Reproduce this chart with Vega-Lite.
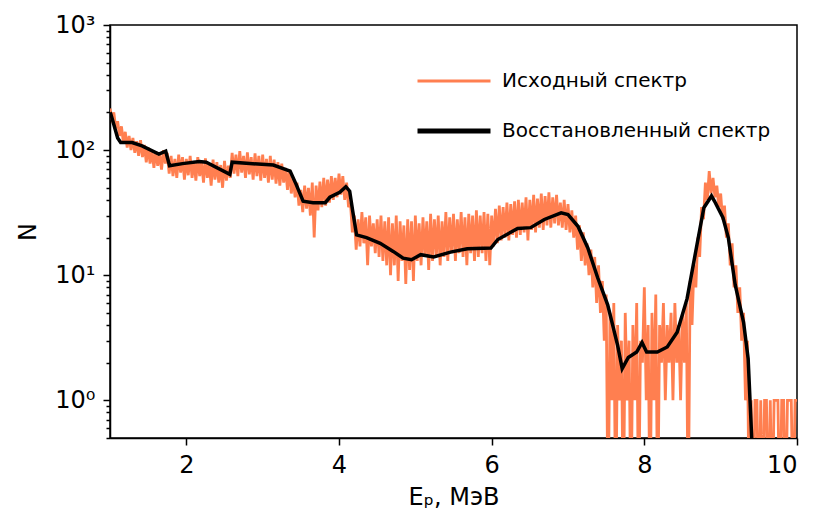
{
  "$schema": "https://vega.github.io/schema/vega-lite/v6.json",
  "width": 687,
  "height": 413,
  "autosize": {"type": "none"},
  "padding": {"left": 110, "top": 25, "right": 20, "bottom": 89},
  "background": "white",
  "config": {
    "view": {"stroke": "black", "strokeWidth": 1.5},
    "axis": {"domainColor": "black", "domainWidth": 1.5, "tickColor": "black", "tickWidth": 1.5, "grid": false, "labelFont": "DejaVu Sans", "labelFontSize": 24, "labelColor": "black", "titleFont": "DejaVu Sans", "titleFontSize": 24, "titleFontWeight": "normal", "titleColor": "black"}
  },
  "datasets": {
    "orig": [
      {"E":1.000,"N":215},{"E":1.025,"N":180},{"E":1.050,"N":200},{"E":1.075,"N":150},{"E":1.100,"N":170},
      {"E":1.125,"N":130},{"E":1.150,"N":155},{"E":1.175,"N":115},{"E":1.200,"N":140},{"E":1.225,"N":105},
      {"E":1.250,"N":130},{"E":1.275,"N":100},{"E":1.300,"N":125},{"E":1.325,"N":95},{"E":1.350,"N":118},
      {"E":1.375,"N":90},{"E":1.400,"N":120},{"E":1.425,"N":88},{"E":1.450,"N":110},{"E":1.475,"N":80},
      {"E":1.500,"N":105},{"E":1.525,"N":78},{"E":1.550,"N":100},{"E":1.575,"N":72},{"E":1.600,"N":98},
      {"E":1.625,"N":75},{"E":1.650,"N":92},{"E":1.675,"N":70},{"E":1.700,"N":100},{"E":1.725,"N":78},
      {"E":1.750,"N":95},{"E":1.775,"N":65},{"E":1.800,"N":90},{"E":1.825,"N":62},{"E":1.850,"N":85},
      {"E":1.875,"N":60},{"E":1.900,"N":92},{"E":1.925,"N":66},{"E":1.950,"N":88},{"E":1.975,"N":58},
      {"E":2.000,"N":85},{"E":2.025,"N":63},{"E":2.050,"N":90},{"E":2.075,"N":60},{"E":2.100,"N":82},
      {"E":2.125,"N":57},{"E":2.150,"N":88},{"E":2.175,"N":62},{"E":2.200,"N":80},{"E":2.225,"N":55},
      {"E":2.250,"N":86},{"E":2.275,"N":60},{"E":2.300,"N":78},{"E":2.325,"N":52},{"E":2.350,"N":84},
      {"E":2.375,"N":58},{"E":2.400,"N":80},{"E":2.425,"N":55},{"E":2.450,"N":76},{"E":2.475,"N":50},
      {"E":2.500,"N":82},{"E":2.525,"N":57},{"E":2.550,"N":75},{"E":2.575,"N":60},{"E":2.600,"N":95},
      {"E":2.625,"N":65},{"E":2.650,"N":92},{"E":2.675,"N":62},{"E":2.700,"N":98},{"E":2.725,"N":66},
      {"E":2.750,"N":90},{"E":2.775,"N":60},{"E":2.800,"N":96},{"E":2.825,"N":64},{"E":2.850,"N":88},
      {"E":2.875,"N":58},{"E":2.900,"N":94},{"E":2.925,"N":62},{"E":2.950,"N":90},{"E":2.975,"N":57},
      {"E":3.000,"N":92},{"E":3.025,"N":60},{"E":3.050,"N":85},{"E":3.075,"N":55},{"E":3.100,"N":90},
      {"E":3.125,"N":58},{"E":3.150,"N":84},{"E":3.175,"N":54},{"E":3.200,"N":80},{"E":3.225,"N":52},
      {"E":3.250,"N":78},{"E":3.275,"N":55},{"E":3.300,"N":72},{"E":3.325,"N":48},{"E":3.350,"N":70},
      {"E":3.375,"N":45},{"E":3.400,"N":60},{"E":3.425,"N":42},{"E":3.450,"N":55},{"E":3.475,"N":36},
      {"E":3.500,"N":48},{"E":3.525,"N":32},{"E":3.550,"N":52},{"E":3.575,"N":34},{"E":3.600,"N":50},
      {"E":3.625,"N":30},{"E":3.650,"N":55},{"E":3.675,"N":20},{"E":3.700,"N":52},{"E":3.725,"N":33},
      {"E":3.750,"N":56},{"E":3.775,"N":35},{"E":3.800,"N":60},{"E":3.825,"N":36},{"E":3.850,"N":58},
      {"E":3.875,"N":38},{"E":3.900,"N":62},{"E":3.925,"N":40},{"E":3.950,"N":60},{"E":3.975,"N":42},
      {"E":4.000,"N":65},{"E":4.025,"N":44},{"E":4.050,"N":62},{"E":4.075,"N":40},{"E":4.100,"N":55},
      {"E":4.125,"N":35},{"E":4.150,"N":38},{"E":4.175,"N":22},{"E":4.200,"N":30},{"E":4.225,"N":16},
      {"E":4.250,"N":28},{"E":4.275,"N":17},{"E":4.300,"N":32},{"E":4.325,"N":18},{"E":4.350,"N":29},
      {"E":4.375,"N":12},{"E":4.400,"N":30},{"E":4.425,"N":17},{"E":4.450,"N":26},{"E":4.475,"N":15},
      {"E":4.500,"N":28},{"E":4.525,"N":14},{"E":4.550,"N":30},{"E":4.575,"N":13},{"E":4.600,"N":27},
      {"E":4.625,"N":12},{"E":4.650,"N":29},{"E":4.675,"N":10},{"E":4.700,"N":26},{"E":4.725,"N":12},
      {"E":4.750,"N":30},{"E":4.775,"N":9},{"E":4.800,"N":27},{"E":4.825,"N":13},{"E":4.850,"N":25},
      {"E":4.875,"N":8.5},{"E":4.900,"N":28},{"E":4.925,"N":11},{"E":4.950,"N":27},{"E":4.975,"N":9},
      {"E":5.000,"N":30},{"E":5.025,"N":13},{"E":5.050,"N":26},{"E":5.075,"N":12},{"E":5.100,"N":29},
      {"E":5.125,"N":14},{"E":5.150,"N":27},{"E":5.175,"N":11},{"E":5.200,"N":31},{"E":5.225,"N":13},
      {"E":5.250,"N":28},{"E":5.275,"N":14},{"E":5.300,"N":30},{"E":5.325,"N":12},{"E":5.350,"N":27},
      {"E":5.375,"N":14},{"E":5.400,"N":32},{"E":5.425,"N":13},{"E":5.450,"N":29},{"E":5.475,"N":15},
      {"E":5.500,"N":31},{"E":5.525,"N":13},{"E":5.550,"N":28},{"E":5.575,"N":15},{"E":5.600,"N":32},
      {"E":5.625,"N":14},{"E":5.650,"N":29},{"E":5.675,"N":12},{"E":5.700,"N":31},{"E":5.725,"N":15},
      {"E":5.750,"N":30},{"E":5.775,"N":13},{"E":5.800,"N":33},{"E":5.825,"N":14},{"E":5.850,"N":30},
      {"E":5.875,"N":15},{"E":5.900,"N":32},{"E":5.925,"N":13},{"E":5.950,"N":31},{"E":5.975,"N":12},
      {"E":6.000,"N":30},{"E":6.025,"N":17},{"E":6.050,"N":34},{"E":6.075,"N":18},{"E":6.100,"N":36},
      {"E":6.125,"N":19},{"E":6.150,"N":35},{"E":6.175,"N":20},{"E":6.200,"N":38},{"E":6.225,"N":19},
      {"E":6.250,"N":37},{"E":6.275,"N":21},{"E":6.300,"N":39},{"E":6.325,"N":20},{"E":6.350,"N":40},
      {"E":6.375,"N":21},{"E":6.400,"N":38},{"E":6.425,"N":22},{"E":6.450,"N":42},{"E":6.475,"N":19},
      {"E":6.500,"N":40},{"E":6.525,"N":23},{"E":6.550,"N":44},{"E":6.575,"N":22},{"E":6.600,"N":41},
      {"E":6.625,"N":24},{"E":6.650,"N":45},{"E":6.675,"N":23},{"E":6.700,"N":43},{"E":6.725,"N":25},
      {"E":6.750,"N":46},{"E":6.775,"N":24},{"E":6.800,"N":42},{"E":6.825,"N":26},{"E":6.850,"N":44},
      {"E":6.875,"N":25},{"E":6.900,"N":38},{"E":6.925,"N":24},{"E":6.950,"N":40},{"E":6.975,"N":23},
      {"E":7.000,"N":37},{"E":7.025,"N":22},{"E":7.050,"N":33},{"E":7.075,"N":20},{"E":7.100,"N":30},
      {"E":7.125,"N":16},{"E":7.150,"N":25},{"E":7.175,"N":13},{"E":7.200,"N":22},{"E":7.225,"N":12},
      {"E":7.250,"N":18},{"E":7.275,"N":10},{"E":7.300,"N":16},{"E":7.325,"N":8},{"E":7.350,"N":14},
      {"E":7.375,"N":6},{"E":7.400,"N":12},{"E":7.425,"N":5},{"E":7.450,"N":9},{"E":7.475,"N":3},
      {"E":7.500,"N":7},{"E":7.525,"N":0.1},{"E":7.550,"N":5},{"E":7.575,"N":1},{"E":7.600,"N":6},
      {"E":7.625,"N":0.1},{"E":7.650,"N":4},{"E":7.675,"N":1},{"E":7.700,"N":3},{"E":7.725,"N":0.1},
      {"E":7.750,"N":5},{"E":7.775,"N":1},{"E":7.800,"N":3},{"E":7.825,"N":0.1},{"E":7.850,"N":4},
      {"E":7.875,"N":1},{"E":7.900,"N":6},{"E":7.925,"N":0.1},{"E":7.950,"N":3},{"E":7.975,"N":2},
      {"E":8.000,"N":8},{"E":8.025,"N":1},{"E":8.050,"N":4},{"E":8.075,"N":0.1},{"E":8.100,"N":5},
      {"E":8.125,"N":1},{"E":8.150,"N":7},{"E":8.175,"N":0.1},{"E":8.200,"N":4},{"E":8.225,"N":2},
      {"E":8.250,"N":6},{"E":8.275,"N":1},{"E":8.300,"N":4},{"E":8.325,"N":2},{"E":8.350,"N":5},
      {"E":8.375,"N":1},{"E":8.400,"N":6},{"E":8.425,"N":2},{"E":8.450,"N":4},{"E":8.475,"N":1},
      {"E":8.500,"N":5},{"E":8.525,"N":2},{"E":8.550,"N":6},{"E":8.575,"N":0.1},{"E":8.600,"N":9},
      {"E":8.625,"N":4},{"E":8.650,"N":12},{"E":8.675,"N":8},{"E":8.700,"N":20},{"E":8.725,"N":14},
      {"E":8.750,"N":35},{"E":8.775,"N":28},{"E":8.800,"N":55},{"E":8.825,"N":40},{"E":8.850,"N":68},
      {"E":8.875,"N":45},{"E":8.900,"N":60},{"E":8.925,"N":42},{"E":8.950,"N":52},{"E":8.975,"N":35},
      {"E":9.000,"N":45},{"E":9.025,"N":28},{"E":9.050,"N":36},{"E":9.075,"N":20},{"E":9.100,"N":26},
      {"E":9.125,"N":12},{"E":9.150,"N":18},{"E":9.175,"N":8},{"E":9.200,"N":12},{"E":9.225,"N":5},
      {"E":9.250,"N":8},{"E":9.275,"N":3},{"E":9.300,"N":5},{"E":9.325,"N":1},{"E":9.350,"N":3},
      {"E":9.375,"N":0.1},{"E":9.400,"N":1},{"E":9.425,"N":0.1},{"E":9.450,"N":1},{"E":9.475,"N":1},
      {"E":9.500,"N":0.1},{"E":9.525,"N":1},{"E":9.550,"N":0.1},{"E":9.575,"N":1},{"E":9.600,"N":1},
      {"E":9.625,"N":0.1},{"E":9.650,"N":1},{"E":9.675,"N":0.1},{"E":9.700,"N":1},{"E":9.725,"N":1},
      {"E":9.750,"N":1},{"E":9.775,"N":0.1},{"E":9.800,"N":1},{"E":9.825,"N":1},{"E":9.850,"N":0.1},
      {"E":9.875,"N":1},{"E":9.900,"N":1},{"E":9.925,"N":1},{"E":9.950,"N":0.1},{"E":9.975,"N":1},
      {"E":10.000,"N":1}
    ],
    "rec": [
      {"E":1.0,"N":200},{"E":1.01,"N":195},{"E":1.05,"N":160},{"E":1.1,"N":125},{"E":1.14,"N":115},
      {"E":1.29,"N":115},{"E":1.42,"N":108},{"E":1.64,"N":93},{"E":1.73,"N":98},{"E":1.78,"N":75},
      {"E":1.95,"N":78},{"E":2.17,"N":81},{"E":2.26,"N":80},{"E":2.57,"N":64},{"E":2.6,"N":80},
      {"E":2.83,"N":78},{"E":3.14,"N":76},{"E":3.36,"N":68},{"E":3.44,"N":53},{"E":3.53,"N":39},
      {"E":3.66,"N":38},{"E":3.82,"N":38},{"E":3.88,"N":42},{"E":4.01,"N":46},{"E":4.09,"N":51},
      {"E":4.14,"N":47},{"E":4.18,"N":32.5},{"E":4.23,"N":21},{"E":4.36,"N":20},{"E":4.54,"N":18},
      {"E":4.71,"N":15.5},{"E":4.84,"N":13.7},{"E":4.95,"N":13.3},{"E":5.07,"N":14.6},{"E":5.24,"N":14},
      {"E":5.46,"N":15.3},{"E":5.68,"N":16.3},{"E":5.99,"N":16.5},{"E":6.08,"N":19.3},{"E":6.34,"N":23.6},
      {"E":6.51,"N":24},{"E":6.69,"N":27.9},{"E":6.91,"N":31.5},{"E":7.0,"N":30.5},{"E":7.13,"N":24.6},
      {"E":7.26,"N":16.5},{"E":7.39,"N":9.5},{"E":7.52,"N":5.8},{"E":7.65,"N":2.75},{"E":7.71,"N":1.79},
      {"E":7.79,"N":2.2},{"E":7.9,"N":2.43},{"E":7.97,"N":2.9},{"E":8.03,"N":2.43},{"E":8.17,"N":2.43},
      {"E":8.3,"N":2.67},{"E":8.43,"N":3.5},{"E":8.56,"N":6.5},{"E":8.69,"N":17.6},{"E":8.78,"N":34.6},
      {"E":8.88,"N":43},{"E":8.92,"N":39},{"E":9.03,"N":28.8},{"E":9.1,"N":20},{"E":9.19,"N":8.4},
      {"E":9.3,"N":4.2},{"E":9.36,"N":2.15},{"E":9.41,"N":0.45},{"E":9.45,"N":0.3}
    ]
  },
  "layer": [
    {
      "data": {"name": "orig"},
      "mark": {"type": "line", "clip": true, "strokeWidth": 2.8, "strokeJoin": "miter"},
      "encoding": {
        "x": {"field": "E", "type": "quantitative", "scale": {"domain": [1, 10], "nice": false},
          "axis": {"values": [2, 4, 6, 8, 10], "format": "d", "tickSize": 7, "labelPadding": 8, "title": "Eₚ, МэВ", "titlePadding": 8}},
        "y": {"field": "N", "type": "quantitative", "scale": {"type": "log", "domain": [0.5, 1000], "nice": false},
          "axis": {"values": [0.5,0.6,0.7,0.8,0.9,1,2,3,4,5,6,7,8,9,10,20,30,40,50,60,70,80,90,100,200,300,400,500,600,700,800,900,1000],
            "tickSize": {"condition": {"test": "datum.value==1||datum.value==10||datum.value==100||datum.value==1000", "value": 7}, "value": 4},
            "labelExpr": "datum.value==1?'10⁰':datum.value==10?'10¹':datum.value==100?'10²':datum.value==1000?'10³':''",
            "labelPadding": 8, "title": "N", "titlePadding": 14}},
        "color": {"datum": "Исходный спектр", "type": "nominal",
          "scale": {"domain": ["Исходный спектр", "Восстановленный спектр"], "range": ["#FF7F50", "#000000"]},
          "legend": {"title": null, "orient": "none", "legendX": 334, "legendY": 46, "symbolType": "stroke", "symbolSize": 5329,
            "symbolStrokeWidth": 4, "rowPadding": 30, "labelFont": "DejaVu Sans", "labelFontSize": 20, "labelColor": "black", "labelOffset": 38, "labelLimit": 0,
            "encode": {"symbols": {"update": {"strokeWidth": {"signal": "datum.value == 'Исходный спектр' ? 3 : 5"}}}}}}
      }
    },
    {
      "data": {"name": "rec"},
      "mark": {"type": "line", "clip": true, "strokeWidth": 3.5},
      "encoding": {
        "x": {"field": "E", "type": "quantitative"},
        "y": {"field": "N", "type": "quantitative"},
        "color": {"datum": "Восстановленный спектр", "type": "nominal"}
      }
    },
    {
      "mark": {"type": "text", "fontSize": 22, "font": "DejaVu Sans", "color": "black"},
      "encoding": {
        "x": {"datum": 2.27},
        "y": {"datum": 313},
        "text": {"value": "б)"}
      }
    }
  ]
}
